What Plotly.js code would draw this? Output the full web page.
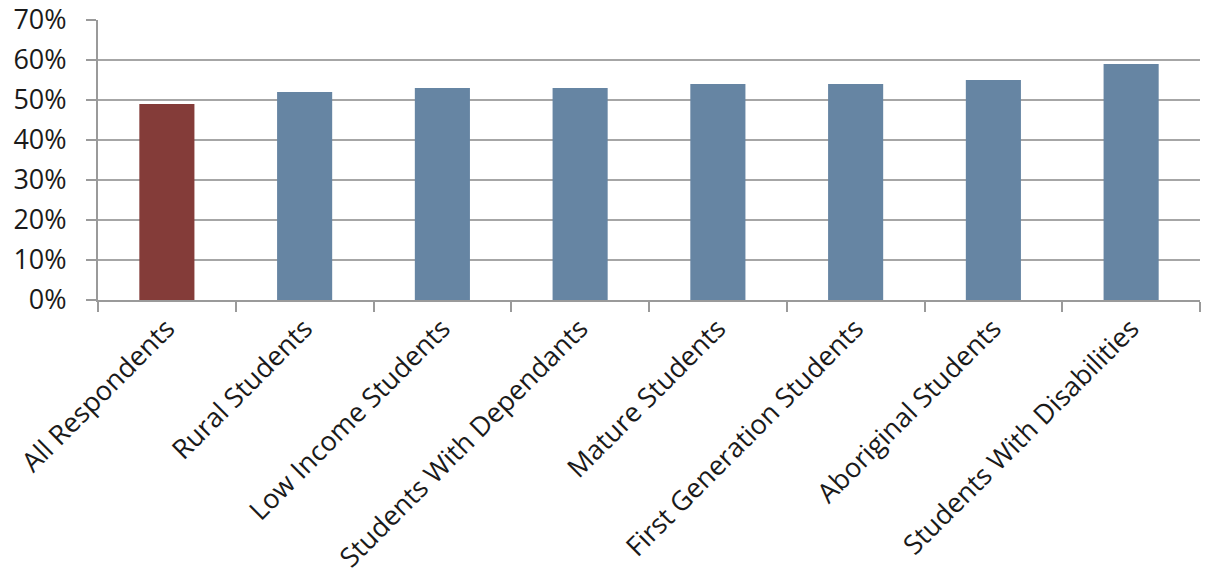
<!DOCTYPE html>
<html><head><meta charset="utf-8">
<script src="https://cdn.plot.ly/plotly-3.0.1.min.js"></script>
<style>html,body{margin:0;padding:0;background:#fff}</style>
</head><body>
<div id="chart" style="width:1208px;height:584px"></div>
<script>
const categories = ["All Respondents","Rural Students","Low Income Students","Students With Dependants","Mature Students","First Generation Students","Aboriginal Students","Students With Disabilities"];
const values = [0.49,0.52,0.53,0.53,0.54,0.54,0.55,0.59];
const barColors = ["#843C39","#6685A3","#6685A3","#6685A3","#6685A3","#6685A3","#6685A3","#6685A3"];
const yTickVals = [0,0.1,0.2,0.3,0.4,0.5,0.6,0.7];

Plotly.newPlot("chart",[{
  type:"bar", x:categories, y:values,
  marker:{color:barColors},
  hoverinfo:"skip"
}],{
  width:1208, height:584,
  margin:{l:98,r:8,t:20,b:284},
  paper_bgcolor:"#fff", plot_bgcolor:"#fff",
  bargap:0.6,
  showlegend:false,
  font:{family:"'Open Sans', Lato, sans-serif", color:"#1a1a1a"},
  xaxis:{
    tickangle:-45, tickfont:{size:27},
    showline:true, linecolor:"#9a9a9a", linewidth:2,
    ticks:"outside", tickson:"boundaries", ticklen:10, tickwidth:2, tickcolor:"#9a9a9a",
    showgrid:false, fixedrange:true
  },
  yaxis:{
    range:[0,0.7], tickvals:yTickVals, tickformat:".0%",
    tickfont:{size:27}, ticklabelstandoff:14,
    showline:true, linecolor:"#9a9a9a", linewidth:2,
    ticks:"outside", ticklen:10, tickwidth:2, tickcolor:"#9a9a9a",
    showgrid:true, gridcolor:"#a6a6a6", gridwidth:2,
    zeroline:false, fixedrange:true
  }
},{displayModeBar:false, staticPlot:true});
</script>
</body></html>
